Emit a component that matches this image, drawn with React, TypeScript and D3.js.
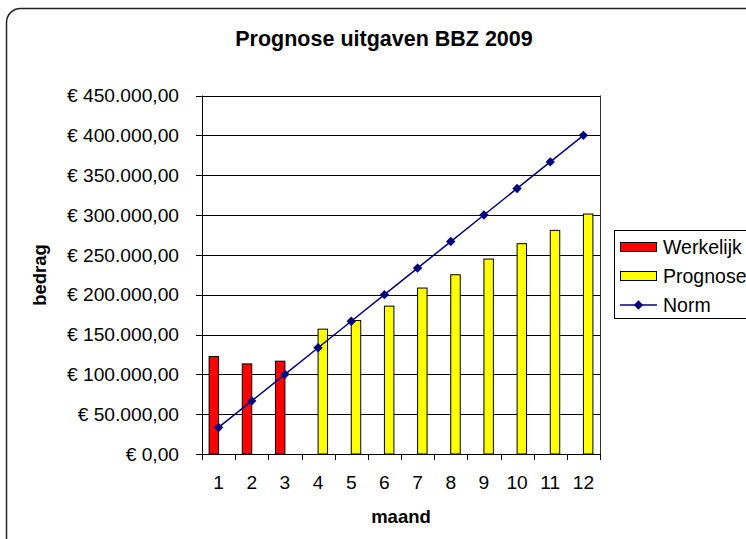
import * as d3 from "d3";

const WIDTH = 746;
const HEIGHT = 539;
const PLOT = { left: 202, right: 600, top: 95.5, bottom: 454 };

const months = ["1", "2", "3", "4", "5", "6", "7", "8", "9", "10", "11", "12"];
const werkelijk = [122300, 113100, 116500, null, null, null, null, null, null, null, null, null];
const prognose = [null, null, null, 156700, 167500, 185600, 208300, 225000, 244700, 264000, 280700, 301200];
const norm = [33333, 66667, 100000, 133333, 166667, 200000, 233333, 266667, 300000, 333333, 366667, 400000];
const yTicks = [0, 50000, 100000, 150000, 200000, 250000, 300000, 350000, 400000, 450000];
const seriesNames = ["Werkelijk", "Prognose"];

const FONT = "'Liberation Sans', Arial, sans-serif";
const nl = d3.formatLocale({ decimal: ",", thousands: ".", grouping: [3], currency: ["€ ", ""] });
const euro = nl.format("$,.2f");

export default function App() {
  const x = d3.scaleBand().domain(months).range([PLOT.left, PLOT.right]).padding(0);
  const inner = d3.scaleBand().domain(seriesNames).range([0, x.bandwidth()]).paddingInner(0).paddingOuter(0.75);
  const y = d3.scaleLinear().domain([0, 450000]).range([PLOT.bottom, PLOT.top]);
  const cx = (m) => (x(m) ?? 0) + x.bandwidth() / 2;

  const normLine = d3
    .line()
    .x((_, i) => cx(months[i]))
    .y((d) => y(d));
  const diamond = d3.symbol().type(d3.symbolSquare).size(44)();

  const bars = [
    { name: "Werkelijk", values: werkelijk, fill: "#FF0000" },
    { name: "Prognose", values: prognose, fill: "#FFFF00" }
  ];

  return (
    <svg
      width={WIDTH}
      height={HEIGHT}
      viewBox={`0 0 ${WIDTH} ${HEIGHT}`}
      style={{ position: "absolute", left: 0, top: 0, background: "#fff" }}
      fontFamily={FONT}
    >
      <rect x={6.5} y={8.5} width={800} height={545} rx={14} fill="#fff" stroke="#222" strokeWidth={1.5} />

      <text x={384} y={46} textAnchor="middle" fontSize={21.5} fontWeight="bold">
        Prognose uitgaven BBZ 2009
      </text>

      {/* gridlines */}
      <g>
        {yTicks.map((t) => (
          <line key={t} x1={PLOT.left} x2={PLOT.right} y1={Math.round(y(t)) + 0.5} y2={Math.round(y(t)) + 0.5} stroke="#000" strokeWidth={1} />
        ))}
        <line x1={PLOT.right + 0.5} x2={PLOT.right + 0.5} y1={PLOT.top} y2={PLOT.bottom} stroke="#333" />
      </g>

      {/* bars */}
      {bars.map((s) => (
        <g key={s.name}>
          {s.values.map((v, i) =>
            v == null ? null : (
              <rect
                key={i}
                x={(x(months[i]) ?? 0) + (inner(s.name) ?? 0)}
                y={y(v)}
                width={inner.bandwidth()}
                height={y(0) - y(v)}
                fill={s.fill}
                stroke="#000"
                strokeWidth={1}
              />
            )
          )}
        </g>
      ))}

      {/* axes */}
      <g stroke="#000" strokeWidth={1}>
        <line x1={PLOT.left + 0.5} x2={PLOT.left + 0.5} y1={PLOT.top} y2={PLOT.bottom + 0.5} />
        <line x1={PLOT.left} x2={PLOT.right + 1} y1={PLOT.bottom + 0.5} y2={PLOT.bottom + 0.5} />
        {yTicks.map((t) => (
          <line key={t} x1={PLOT.left - 6} x2={PLOT.left} y1={Math.round(y(t)) + 0.5} y2={Math.round(y(t)) + 0.5} />
        ))}
        {[...months.map((m) => x(m) ?? 0), PLOT.right].map((bx, i) => (
          <line key={i} x1={Math.round(bx) + 0.5} x2={Math.round(bx) + 0.5} y1={PLOT.bottom} y2={PLOT.bottom + 6} />
        ))}
      </g>

      {/* norm line */}
      <path d={normLine(norm) ?? ""} fill="none" stroke="#000080" strokeWidth={1.5} />
      {norm.map((v, i) => (
        <path key={i} d={diamond} transform={`translate(${cx(months[i])},${y(v)}) rotate(45)`} fill="#000080" />
      ))}

      {/* tick labels */}
      <g fontSize={19.2} fill="#000">
        {yTicks.map((t) => (
          <text key={t} x={179} y={y(t)} dy="0.35em" textAnchor="end">
            {euro(t)}
          </text>
        ))}
        {months.map((m) => (
          <text key={m} x={cx(m)} y={489} textAnchor="middle">
            {m}
          </text>
        ))}
      </g>

      <text x={(PLOT.left + PLOT.right) / 2} y={523} textAnchor="middle" fontSize={18.5} fontWeight="bold">
        maand
      </text>
      <text transform="translate(46,275) rotate(-90)" textAnchor="middle" fontSize={18.5} fontWeight="bold">
        bedrag
      </text>

      {/* legend */}
      <g>
        <rect x={614.5} y={230.5} width={200} height={88} fill="#fff" stroke="#000" />
        {bars.map((s, i) => (
          <g key={s.name} transform={`translate(0,${247 + i * 29})`}>
            <rect x={620.5} y={-4.5} width={36} height={9} fill={s.fill} stroke="#000" />
            <text x={663} y={0} dy="0.35em" fontSize={19.5}>
              {s.name}
            </text>
          </g>
        ))}
        <g transform={`translate(0,${247 + 2 * 29})`}>
          <line x1={620} x2={657} y1={0} y2={0} stroke="#000080" strokeWidth={1.5} />
          <path d={diamond} transform="translate(638.5,0) rotate(45)" fill="#000080" />
          <text x={663} y={0} dy="0.35em" fontSize={19.5}>
            Norm
          </text>
        </g>
      </g>
    </svg>
  );
}
